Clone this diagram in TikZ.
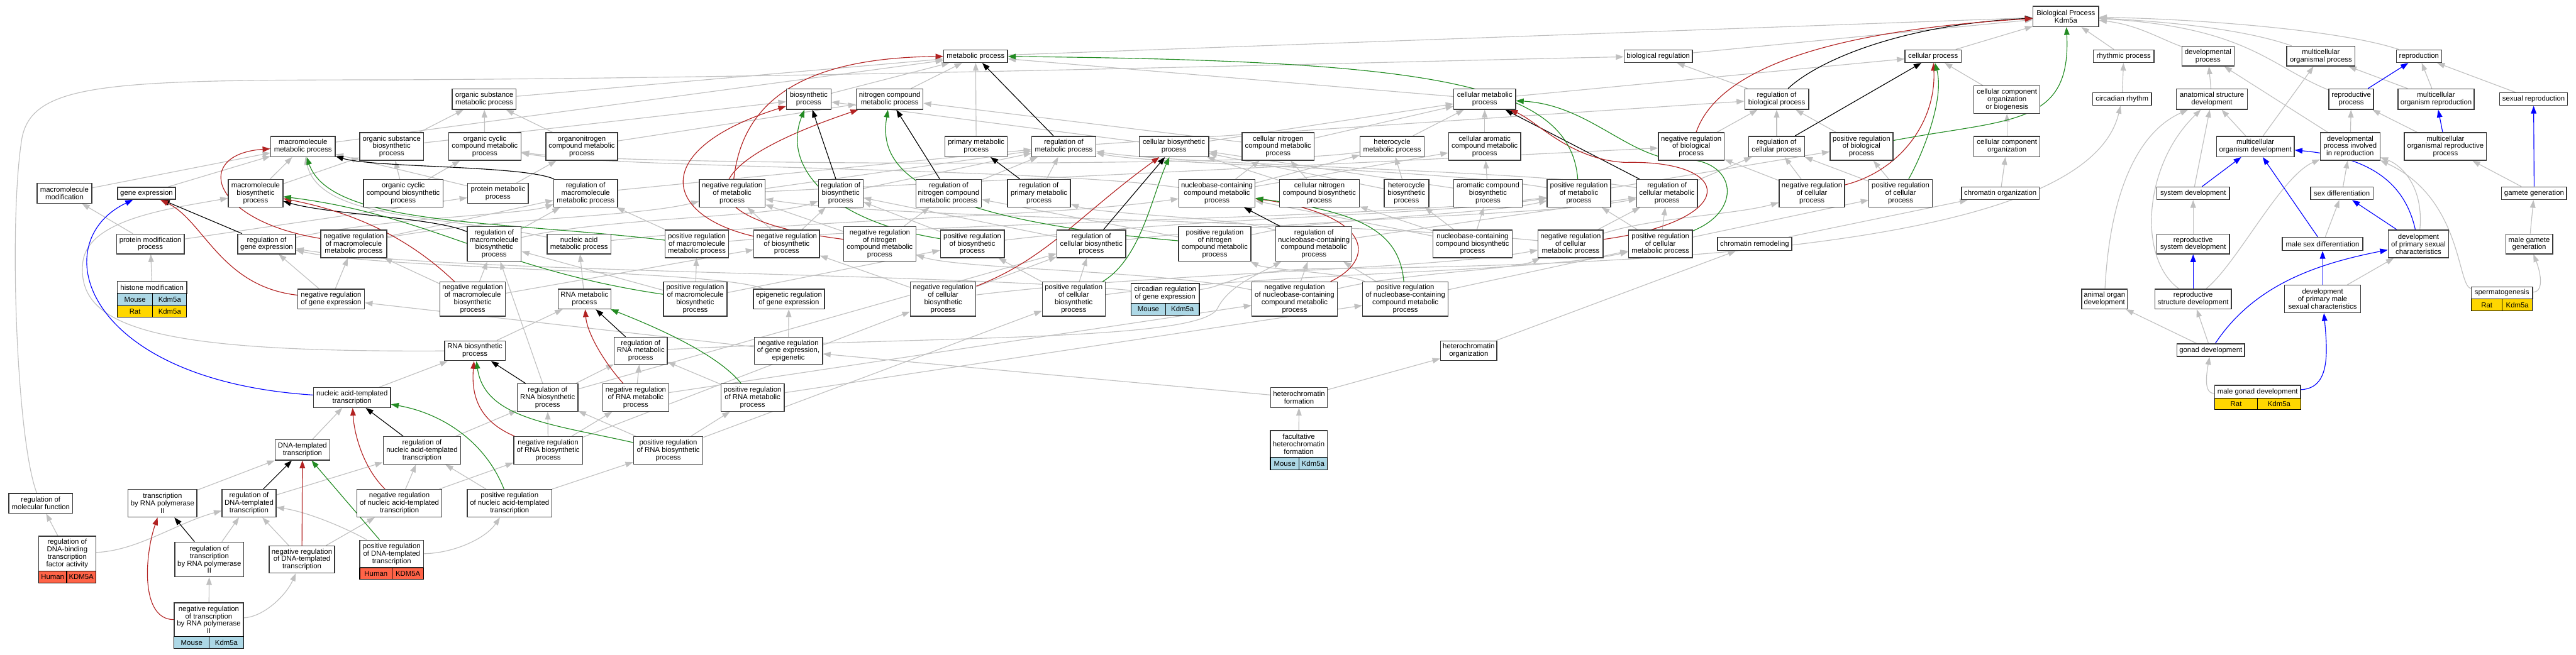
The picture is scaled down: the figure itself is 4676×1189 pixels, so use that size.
\documentclass[tikz,border=0pt]{standalone}
\usepackage{fontspec}
\setmainfont{Liberation Sans}
\usetikzlibrary{arrows.meta,backgrounds}
\definecolor{GoGray}{HTML}{C0C0C0}
\definecolor{GoRed}{HTML}{B22222}
\definecolor{GoGreen}{HTML}{228B22}
\definecolor{GoBlue}{HTML}{0000FF}
\definecolor{GoFrame}{HTML}{3A3A3A}
\definecolor{GoMouse}{HTML}{ADD8E6}
\definecolor{GoRat}{HTML}{FFD700}
\definecolor{GoHuman}{HTML}{FF6347}
\newcommand{\gofont}{\fontsize{13}{13.6}\selectfont}
\begin{document}
\begin{tikzpicture}[x=1pt,y=-1pt,
    term/.style={draw=GoFrame,line width=1.6pt,fill=white,align=center,inner sep=0pt,font=\gofont},
    sz/.style 2 args={minimum width=#1pt,minimum height=#2pt},
    cell/.style={draw=black,line width=1.2pt,inner sep=0pt,font=\gofont},
    isa/.style={color=GoGray,line width=1.3pt,-{Triangle[length=14pt,width=10pt]}},
    reg/.style={isa,color=black},
    negreg/.style={isa,color=GoRed},
    posreg/.style={isa,color=GoGreen},
    partof/.style={isa,color=GoBlue}]
  \useasboundingbox (0,0) rectangle (4676,1189);

  \node[term,sz={119}{37}] (root) at (3750,30) {Biological Process\\Kdm5a};
  \node[term,sz={116}{23}] (mp) at (1771,102) {metabolic process};
  \node[term,sz={124}{23}] (breg) at (3010,102) {biological regulation};
  \node[term,sz={102}{23}] (cp) at (3509,102) {cellular process};
  \node[term,sz={110}{23}] (rhp) at (3855,102) {rhythmic process};
  \node[term,sz={95}{36}] (dp) at (4008,102) {developmental\\process};
  \node[term,sz={124}{36}] (mop) at (4213,102) {multicellular\\organismal process};
  \node[term,sz={82}{23}] (repr) at (4391,102) {reproduction};

  \node[term,sz={116}{37}] (osmp) at (879,180) {organic substance\\metabolic process};
  \node[term,sz={81}{37}] (bp) at (1468,180) {biosynthetic\\process};
  \node[term,sz={121}{37}] (ncmp) at (1615,180) {nitrogen compound\\metabolic process};
  \node[term,sz={112}{37}] (cmp) at (2695,180) {cellular metabolic\\process};
  \node[term,sz={116}{37}] (rbiop) at (3225,180) {regulation of\\biological process};
  \node[term,sz={120}{50}] (ccob) at (3643,181) {cellular component\\organization\\or biogenesis};
  \node[term,sz={107}{23}] (crh) at (3852,180) {circadian rhythm};
  \node[term,sz={129}{37}] (asd) at (4015,180) {anatomical structure\\development};
  \node[term,sz={81}{37}] (rp) at (4268,180) {reproductive\\process};
  \node[term,sz={138}{37}] (mor) at (4422,180) {multicellular\\organism reproduction};
  \node[term,sz={123}{23}] (sr) at (4599,180) {sexual reproduction};

  \node[term,sz={117}{37}] (mmp) at (550,266) {macromolecule\\metabolic process};
  \node[term,sz={116}{50}] (osbp) at (711,266) {organic substance\\biosynthetic\\process};
  \node[term,sz={131}{50}] (occmp) at (880,266) {organic cyclic\\compound metabolic\\process};
  \node[term,sz={130}{50}] (oncmp) at (1056,266) {organonitrogen\\compound metabolic\\process};
  \node[term,sz={113}{37}] (pmbp) at (1772,266) {primary metabolic\\process};
  \node[term,sz={116}{37}] (rmp) at (1931,266) {regulation of\\metabolic process};
  \node[term,sz={126}{37}] (cbp) at (2131,266) {cellular biosynthetic\\process};
  \node[term,sz={131}{50}] (cncmp) at (2320,266) {cellular nitrogen\\compound metabolic\\process};
  \node[term,sz={116}{37}] (hmp) at (2527,266) {heterocycle\\metabolic process};
  \node[term,sz={131}{50}] (camp) at (2695,266) {cellular aromatic\\compound metabolic\\process};
  \node[term,sz={119}{50}] (nrbiop) at (3070,266) {negative regulation\\of biological\\process};
  \node[term,sz={101}{37}] (rcp) at (3225,266) {regulation of\\cellular process};
  \node[term,sz={114}{50}] (prbiop) at (3379,266) {positive regulation\\of biological\\process};
  \node[term,sz={120}{37}] (cco) at (3643,266) {cellular component\\organization};
  \node[term,sz={141}{37}] (mod) at (4094,266) {multicellular\\organism development};
  \node[term,sz={108}{50}] (dpir) at (4266,266) {developmental\\process involved\\in reproduction};
  \node[term,sz={149}{50}] (morp) at (4439,266) {multicellular\\organismal reproductive\\process};

  \node[term,sz={99}{36}] (mmod) at (117,351) {macromolecule\\modification};
  \node[term,sz={105}{22}] (gexp) at (266,351) {gene expression};
  \node[term,sz={99}{50}] (mbp) at (464,351) {macromolecule\\biosynthetic\\process};
  \node[term,sz={144}{50}] (occbp) at (732,351) {organic cyclic\\compound biosynthetic\\process};
  \node[term,sz={110}{36}] (pmp) at (904,351) {protein metabolic\\process};
  \node[term,sz={116}{50}] (rmmp) at (1063,351) {regulation of\\macromolecule\\metabolic process};
  \node[term,sz={119}{50}] (nrmp) at (1329,351) {negative regulation\\of metabolic\\process};
  \node[term,sz={81}{50}] (rbp) at (1526,351) {regulation of\\biosynthetic\\process};
  \node[term,sz={119}{50}] (rncmp) at (1722,351) {regulation of\\nitrogen compound\\metabolic process};
  \node[term,sz={114}{50}] (rpmp) at (1886,351) {regulation of\\primary metabolic\\process};
  \node[term,sz={138}{50}] (nccmp) at (2209,351) {nucleobase-containing\\compound metabolic\\process};
  \node[term,sz={145}{50}] (cncbp) at (2395,351) {cellular nitrogen\\compound biosynthetic\\process};
  \node[term,sz={81}{50}] (hbp) at (2553,351) {heterocycle\\biosynthetic\\process};
  \node[term,sz={125}{50}] (acbp) at (2701,351) {aromatic compound\\biosynthetic\\process};
  \node[term,sz={115}{50}] (prmp) at (2866,351) {positive regulation\\of metabolic\\process};
  \node[term,sz={110}{50}] (rcmp) at (3026,351) {regulation of\\cellular metabolic\\process};
  \node[term,sz={119}{50}] (nrcp) at (3289,351) {negative regulation\\of cellular\\process};
  \node[term,sz={115}{50}] (prcp) at (3450,351) {positive regulation\\of cellular\\process};
  \node[term,sz={141}{23}] (chorg) at (3631,351) {chromatin organization};
  \node[term,sz={132}{23}] (sd) at (3981,351) {system development};
  \node[term,sz={114}{23}] (sdiff) at (4251,351) {sex differentiation};
  \node[term,sz={118}{23}] (gg) at (4600,351) {gamete generation};

  \node[term,sz={123}{36}] (pmod) at (273,443) {protein modification\\process};
  \node[term,sz={105}{36}] (rge) at (484,443) {regulation of\\gene expression};
  \node[term,sz={120}{50}] (nrmmp) at (642,443) {negative regulation\\of macromolecule\\metabolic process};
  \node[term,sz={98}{63}] (rmbp) at (897,443) {regulation of\\macromolecule\\biosynthetic\\process};
  \node[term,sz={116}{36}] (namp) at (1051,443) {nucleic acid\\metabolic process};
  \node[term,sz={115}{50}] (prmmp) at (1265,443) {positive regulation\\of macromolecule\\metabolic process};
  \node[term,sz={119}{50}] (nrbp) at (1428,443) {negative regulation\\of biosynthetic\\process};
  \node[term,sz={131}{63}] (nrncmp) at (1597,443) {negative regulation\\of nitrogen\\compound metabolic\\process};
  \node[term,sz={116}{50}] (prbp) at (1765,443) {positive regulation\\of biosynthetic\\process};
  \node[term,sz={125}{50}] (rcbp) at (1981,443) {regulation of\\cellular biosynthetic\\process};
  \node[term,sz={131}{63}] (prncmp) at (2205,443) {positive regulation\\of nitrogen\\compound metabolic\\process};
  \node[term,sz={138}{63}] (rnccmp) at (2385,443) {regulation of\\nucleobase-containing\\compound metabolic\\process};
  \node[term,sz={144}{50}] (nccbp) at (2673,443) {nucleobase-containing\\compound biosynthetic\\process};
  \node[term,sz={118}{50}] (nrcmp) at (2851,443) {negative regulation\\of cellular\\metabolic process};
  \node[term,sz={116}{50}] (prcmp) at (3014,443) {positive regulation\\of cellular\\metabolic process};
  \node[term,sz={135}{24}] (chrem) at (3185,443) {chromatin remodeling};
  \node[term,sz={132}{36}] (rsd) at (3981,443) {reproductive\\system development};
  \node[term,sz={146}{24}] (msd) at (4216,443) {male sex differentiation};
  \node[term,sz={110}{50}] (dpsc) at (4390,443) {development\\of primary sexual\\characteristics};
  \node[term,sz={85}{36}] (mgg) at (4591,443) {male gamete\\generation};

  \node[term,sz={126}{22}] (hmod) at (276,522) {histone modification};
  \node[cell,fill=GoMouse,sz={64}{22}] (hmodA) at (245,544) {Mouse};
  \node[cell,fill=GoMouse,sz={62}{22}] (hmodB) at (308,544) {Kdm5a};
  \node[cell,fill=GoRat,sz={64}{21}] (hmodC) at (245,565.5) {Rat};
  \node[cell,fill=GoRat,sz={62}{21}] (hmodD) at (308,565.5) {Kdm5a};
  \node[term,sz={121}{36}] (nrge) at (601,543) {negative regulation\\of gene expression};
  \node[term,sz={119}{62}] (nrmbp) at (858,543) {negative regulation\\of macromolecule\\biosynthetic\\process};
  \node[term,sz={96}{36}] (rnamp) at (1061,543) {RNA metabolic\\process};
  \node[term,sz={115}{62}] (prmbp) at (1262,543) {positive regulation\\of macromolecule\\biosynthetic\\process};
  \node[term,sz={129}{36}] (ereg) at (1432,543) {epigenetic regulation\\of gene expression};
  \node[term,sz={119}{62}] (nrcbp) at (1712,543) {negative regulation\\of cellular\\biosynthetic\\process};
  \node[term,sz={114}{62}] (prcbp) at (1949,543) {positive regulation\\of cellular\\biosynthetic\\process};
  \node[term,sz={124}{36}] (crge) at (2115,533) {circadian regulation\\of gene expression};
  \node[cell,fill=GoMouse,sz={63}{21}] (crgeA) at (2084.5,561.5) {Mouse};
  \node[cell,fill=GoMouse,sz={61}{21}] (crgeB) at (2146.5,561.5) {Kdm5a};
  \node[term,sz={155}{62}] (nrnccmp) at (2350,543) {negative regulation\\of nucleobase-containing\\compound metabolic\\process};
  \node[term,sz={155}{62}] (prnccmp) at (2551,543) {positive regulation\\of nucleobase-containing\\compound metabolic\\process};
  \node[term,sz={83}{36}] (aod) at (3820,543) {animal organ\\development};
  \node[term,sz={139}{36}] (rstd) at (3981,543) {reproductive\\structure development};
  \node[term,sz={138}{50}] (dpmsc) at (4216,543) {development\\of primary male\\sexual characteristics};
  \node[term,sz={111}{22}] (sperm) at (4541.5,532) {spermatogenesis};
  \node[cell,fill=GoRat,sz={56}{22}] (spermA) at (4514,554) {Rat};
  \node[cell,fill=GoRat,sz={55}{22}] (spermB) at (4569.5,554) {Kdm5a};

  \node[term,sz={110}{36}] (rnabp) at (862,637) {RNA biosynthetic\\process};
  \node[term,sz={96}{49}] (rrnamp) at (1163,637) {regulation of\\RNA metabolic\\process};
  \node[term,sz={124}{49}] (nrgee) at (1431,637) {negative regulation\\of gene expression,\\epigenetic};
  \node[term,sz={102}{36}] (ho) at (2666,637) {heterochromatin\\organization};
  \node[term,sz={123}{23}] (gd) at (4013,636) {gonad development};

  \node[term,sz={140}{36}] (natt) at (639,722) {nucleic acid-templated\\transcription};
  \node[term,sz={110}{50}] (rrnabp) at (994,722) {regulation of\\RNA biosynthetic\\process};
  \node[term,sz={120}{50}] (nrrnamp) at (1154,722) {negative regulation\\of RNA metabolic\\process};
  \node[term,sz={115}{50}] (prrnamp) at (1366,722) {positive regulation\\of RNA metabolic\\process};
  \node[term,sz={103}{36}] (hf) at (2358,722) {heterochromatin\\formation};
  \node[term,sz={156}{23}] (mgd) at (4098,711.5) {male gonad development};
  \node[cell,fill=GoRat,sz={78}{21}] (mgdA) at (4059,733.5) {Rat};
  \node[cell,fill=GoRat,sz={78}{21}] (mgdB) at (4137,733.5) {Kdm5a};

  \node[term,sz={99}{37}] (dtt) at (549,817) {DNA-templated\\transcription};
  \node[term,sz={141}{50}] (rnatt) at (766,818) {regulation of\\nucleic acid-templated\\transcription};
  \node[term,sz={125}{50}] (nrrnabp) at (995,818) {negative regulation\\of RNA biosynthetic\\process};
  \node[term,sz={126}{50}] (prrnabp) at (1213,818) {positive regulation\\of RNA biosynthetic\\process};
  \node[term,sz={103}{49}] (fhf) at (2357.5,806.5) {facultative\\heterochromatin\\formation};
  \node[cell,fill=GoMouse,sz={52}{22}] (fhfA) at (2332,842) {Mouse};
  \node[cell,fill=GoMouse,sz={51}{22}] (fhfB) at (2383.5,842) {Kdm5a};

  \node[term,sz={116}{36}] (rmf) at (74,914) {regulation of\\molecular function};
  \node[term,sz={125}{50}] (trp2) at (295,914) {transcription\\by RNA polymerase\\II};
  \node[term,sz={98}{50}] (rdtt) at (452,914) {regulation of\\DNA-templated\\transcription};
  \node[term,sz={154}{50}] (nrnatt) at (725,914) {negative regulation\\of nucleic acid-templated\\transcription};
  \node[term,sz={154}{50}] (prnatt) at (925,914) {positive regulation\\of nucleic acid-templated\\transcription};

  \node[term,sz={104}{63}] (rdbtf) at (122,1005.5) {regulation of\\DNA-binding\\transcription\\factor activity};
  \node[cell,fill=GoHuman,sz={51}{22}] (rdbtfA) at (95.5,1048) {Human};
  \node[cell,fill=GoHuman,sz={53}{22}] (rdbtfB) at (147.5,1048) {KDM5A};
  \node[term,sz={125}{63}] (rtrp2) at (380,1016) {regulation of\\transcription\\by RNA polymerase\\II};
  \node[term,sz={119}{49}] (nrdtt) at (548,1016) {negative regulation\\of DNA-templated\\transcription};
  \node[term,sz={116}{50}] (prdtt) at (711,1006) {positive regulation\\of DNA-templated\\transcription};
  \node[cell,fill=GoHuman,sz={59}{21}] (prdttA) at (682.5,1041.5) {Human};
  \node[cell,fill=GoHuman,sz={57}{21}] (prdttB) at (740.5,1041.5) {KDM5A};

  \node[term,sz={126}{61}] (nrtrp2) at (379,1125.5) {negative regulation\\of transcription\\by RNA polymerase\\II};
  \node[cell,fill=GoMouse,sz={64}{22}] (nrtrp2A) at (348,1167) {Mouse};
  \node[cell,fill=GoMouse,sz={62}{22}] (nrtrp2B) at (411,1167) {Kdm5a};

  \begin{scope}[on background layer]
    \fill[white] (0,0) rectangle (4676,1189);
    \path[isa] (mp) edge (root);
    \path[isa] (breg) edge (root);
    \path[isa] (cp) edge (root);
    \path[isa] (rhp) edge (root);
    \draw[isa] (dp) .. controls (3920,70) and (3880,45) .. (root);
    \draw[isa] (mop) .. controls (4080,55) and (3950,40) .. (root);
    \draw[isa] (repr) .. controls (4250,55) and (4000,35) .. (root);
    \draw[isa] (rp) .. controls (4120,120) and (4080,50) .. (root);
    \path[isa] (osmp) edge (mp);
    \path[isa] (bp) edge (mp);
    \path[isa] (ncmp) edge (mp);
    \path[isa] (cmp) edge (mp) edge (cp);
    \path[isa] (rbiop) edge (breg);
    \path[isa] (ccob) edge (cp);
    \path[isa] (crh) edge (rhp);
    \path[isa] (asd) edge (dp);
    \path[isa] (mor) edge (repr) edge (mop);
    \path[isa] (sr) edge (repr);
    \path[isa] (mmp) edge (mp);
    \path[isa] (osbp) edge (osmp) edge (bp);
    \path[isa] (occmp) edge (osmp);
    \path[isa] (oncmp) edge (osmp) edge (ncmp);
    \path[isa] (pmbp) edge (mp);
    \path[isa] (rmp) edge (rbiop);
    \path[isa] (cbp) edge (bp) edge (cmp);
    \path[isa] (cncmp) edge (ncmp) edge (cmp);
    \path[isa] (hmp) edge (cmp);
    \draw[isa] (hmp) .. controls (2300,305) and (1100,300) .. (occmp);
    \path[isa] (camp) edge (cmp);
    \path[isa] (nrbiop) edge (rbiop);
    \path[isa] (rcp) edge (rbiop);
    \path[isa] (prbiop) edge (rbiop);
    \path[isa] (cco) edge (ccob);
    \path[isa] (mod) edge (mop) edge (asd);
    \path[isa] (dpir) edge (dp) edge (rp);
    \path[isa] (morp) edge (rp);
    \path[isa] (mmod) edge (mmp);
    \path[isa] (gexp) edge (mmp);
    \path[isa] (mbp) edge (mmp) edge (osbp);
    \path[isa] (occbp) edge (osbp) edge (occmp);
    \path[isa] (pmp) edge (mmp) edge (oncmp);
    \path[isa] (rmmp) edge (rmp);
    \path[isa] (nrmp) edge (rmp) edge (nrbiop);
    \path[isa] (rbp) edge (rmp);
    \path[isa] (rncmp) edge (rmp);
    \path[isa] (rpmp) edge (rmp);
    \path[isa] (nccmp) edge (cncmp) edge (hmp) edge (camp);
    \draw[isa] (nccmp) .. controls (1900,305) and (1100,305) .. (occmp);
    \path[isa] (cncbp) edge (cncmp) edge (cbp);
    \path[isa] (hbp) edge (hmp) edge (cbp);
    \path[isa] (acbp) edge (camp) edge (cbp);
    \path[isa] (prmp) edge (prbiop);
    \draw[isa] (prmp) .. controls (2600,305) and (2100,300) .. (rmp);
    \path[isa] (rcmp) edge (rcp);
    \draw[isa] (rcmp) .. controls (2800,310) and (2150,300) .. (rmp);
    \path[isa] (nrcp) edge (rcp) edge (nrbiop);
    \path[isa] (prcp) edge (rcp) edge (prbiop);
    \path[isa] (chorg) edge (cco);
    \path[isa] (sd) edge (asd);
    \path[isa] (sdiff) edge (dpir);
    \path[isa] (gg) edge (morp);
    \path[isa] (pmod) edge (mmod) edge (pmp);
    \draw[isa] (rge) .. controls (700,395) and (950,390) .. (rmmp);
    \path[isa] (nrmmp) edge (rmmp);
    \draw[isa] (nrmmp) .. controls (900,395) and (1150,395) .. (nrmp);
    \path[isa] (rmbp) edge (rmmp);
    \draw[isa] (rmbp) .. controls (1100,395) and (1400,395) .. (rbp);
    \draw[isa] (namp) .. controls (1500,395) and (1900,395) .. (nccmp);
    \draw[isa] (namp) .. controls (800,390) and (580,400) .. (mmp);
    \path[isa] (prmmp) edge (rmmp);
    \draw[isa] (prmmp) .. controls (1800,398) and (2500,398) .. (prmp);
    \path[isa] (nrbp) edge (rbp) edge (nrmp);
    \path[isa] (nrncmp) edge (rncmp) edge (nrmp);
    \path[isa] (prbp) edge (rbp);
    \draw[isa] (prbp) .. controls (2200,392) and (2600,392) .. (prmp);
    \path[isa] (rcbp) edge (rbp);
    \draw[isa] (rcbp) .. controls (2400,393) and (2800,393) .. (rcmp);
    \path[isa] (prncmp) edge (rncmp);
    \draw[isa] (prncmp) .. controls (2400,395) and (2700,390) .. (prmp);
    \draw[isa] (rnccmp) .. controls (2250,395) and (2000,390) .. (rpmp);
    \path[isa] (rnccmp) edge (rcmp);
    \path[isa] (nccbp) edge (nccmp) edge (cncbp) edge (hbp) edge (acbp);
    \path[isa] (nrcmp) edge (rcmp);
    \draw[isa] (nrcmp) .. controls (2400,398) and (1600,398) .. (nrmp);
    \draw[isa] (nrcmp) .. controls (3000,395) and (3150,390) .. (nrcp);
    \path[isa] (prcmp) edge (rcmp) edge (prmp) edge (prcp);
    \path[isa] (chrem) edge (chorg);
    \path[isa] (rsd) edge (sd);
    \path[isa] (msd) edge (sdiff);
    \draw[isa] (dpsc) .. controls (4400,340) and (4360,300) .. (dpir);
    \path[isa] (mgg) edge (gg);
    \path[isa] (hmod) edge (pmod);
    \path[isa] (nrge) edge (rge) edge (nrmmp);
    \path[isa] (nrmbp) edge (rmbp) edge (nrbp) edge (nrmmp);
    \path[isa] (rnamp) edge (namp);
    \path[isa] (prmbp) edge (rmbp) edge (prbp) edge (prmmp);
    \draw[isa] (ereg) .. controls (1300,490) and (700,490) .. (rge);
    \path[isa] (nrcbp) edge (rcbp) edge (nrbp);
    \draw[isa] (nrcbp) .. controls (2100,495) and (2600,490) .. (nrcmp);
    \path[isa] (prcbp) edge (rcbp) edge (prbp);
    \draw[isa] (prcbp) .. controls (2300,495) and (2800,495) .. (prcmp);
    \draw[isa] (crge) .. controls (1700,495) and (800,495) .. (rge);
    \draw[isa] (crge) .. controls (2230,520) and (2240,490) .. (2400,488) .. controls (3300,480) and (3800,400) .. (crh);
    \path[isa] (nrnccmp) edge (rnccmp);
    \draw[isa] (nrnccmp) .. controls (2100,490) and (1750,490) .. (nrncmp);
    \draw[isa] (nrnccmp) .. controls (2550,495) and (2750,490) .. (nrcmp);
    \path[isa] (prnccmp) edge (rnccmp) edge (prcmp);
    \draw[isa] (prnccmp) .. controls (2440,495) and (2300,490) .. (prncmp);
    \draw[isa] (aod) .. controls (3830,350) and (3880,240) .. (asd);
    \draw[isa] (rstd) .. controls (3880,470) and (3890,300) .. (asd);
    \draw[isa] (rstd) .. controls (4060,480) and (4140,320) .. (dpir);
    \path[isa] (dpmsc) edge (dpsc);
    \draw[isa] (sperm) .. controls (4460,520) and (4470,360) .. (dpir);
    \draw[isa] (sperm) .. controls (4620,530) and (4610,490) .. (mgg);
    \path[isa] (rnabp) edge (rnamp);
    \draw[isa] (rnabp) .. controls (300,640) and (140,600) .. (150,480) .. controls (155,400) and (300,380) .. (mbp);
    \draw[isa] (rrnamp) .. controls (1700,610) and (2180,620) .. (2210,560) .. controls (2230,520) and (2280,500) .. (rnccmp);
    \path[isa] (nrgee) edge (nrge) edge (ereg);
    \path[isa] (ho) edge (chrem);
    \path[isa] (gd) edge (aod) edge (rstd);
    \path[isa] (natt) edge (rnabp);
    \path[isa] (rrnabp) edge (rrnamp) edge (rmbp) edge (rcbp);
    \path[isa] (nrrnamp) edge (rrnamp) edge (nrnccmp);
    \path[isa] (prrnamp) edge (rrnamp) edge (prnccmp);
    \path[isa] (hf) edge (ho) edge (nrgee);
    \draw[isa] (mgd) .. controls (4000,715) and (4005,680) .. (gd);
    \path[isa] (dtt) edge (natt);
    \path[isa] (rnatt) edge (rrnabp);
    \path[isa] (nrrnabp) edge (rrnabp) edge (nrrnamp) edge (nrcbp);
    \path[isa] (prrnabp) edge (rrnabp) edge (prrnamp) edge (prcbp);
    \path[isa] (fhf) edge (hf);
    \draw[isa] (rmf) .. controls (30,800) and (15,400) .. (40,250) .. controls (60,150) and (200,145) .. (700,145) .. controls (1500,142) and (2600,110) .. (breg);
    \path[isa] (trp2) edge (dtt);
    \path[isa] (rdtt) edge (rnatt);
    \path[isa] (nrnatt) edge (rnatt) edge (nrrnabp);
    \path[isa] (prnatt) edge (rnatt) edge (prrnabp);
    \path[isa] (rdbtf) edge (rmf);
    \draw[isa] (rdbtf) .. controls (250,1000) and (320,950) .. (rdtt);
    \path[isa] (rtrp2) edge (rdtt);
    \path[isa] (nrdtt) edge (rdtt) edge (nrnatt);
    \draw[isa] (prdtt) .. controls (630,960) and (560,930) .. (rdtt);
    \draw[isa] (prdtt) .. controls (820,1005) and (880,980) .. (prnatt);
    \path[isa] (nrtrp2) edge (rtrp2);
    \draw[isa] (nrtrp2) .. controls (480,1120) and (520,1080) .. (nrdtt);

    \draw[reg] (rbiop) .. controls (3300,110) and (3450,45) .. (root);
    \draw[reg] (rcp) -- (cp);
    \draw[reg] (rmp) -- (mp);
    \draw[reg] (rmmp) .. controls (950,300) and (680,305) .. (mmp);
    \draw[reg] (rbp) -- (bp);
    \draw[reg] (rncmp) -- (ncmp);
    \draw[reg] (rpmp) -- (pmbp);
    \draw[reg] (rcbp) -- (cbp);
    \draw[reg] (rcmp) -- (cmp);
    \draw[reg] (rnccmp) -- (nccmp);
    \draw[reg] (rge) -- (gexp);
    \draw[reg] (rmbp) .. controls (790,395) and (600,390) .. (mbp);
    \draw[reg] (rrnamp) -- (rnamp);
    \draw[reg] (rrnabp) -- (rnabp);
    \draw[reg] (rnatt) -- (natt);
    \draw[reg] (rdtt) -- (dtt);
    \draw[reg] (rtrp2) -- (trp2);

    \draw[negreg] (nrbiop) .. controls (3110,150) and (3250,60) .. (root);
    \draw[negreg] (nrcp) .. controls (3450,310) and (3515,220) .. (cp);
    \draw[negreg] (nrmp) .. controls (1345,210) and (1420,105) .. (mp);
    \draw[negreg] (nrmmp) .. controls (380,400) and (350,280) .. (mmp);
    \draw[negreg] (nrbp) .. controls (1200,390) and (1180,270) .. (bp);
    \draw[negreg] (nrncmp) .. controls (1260,400) and (1230,310) .. (ncmp);
    \draw[negreg] (nrcbp) .. controls (1900,470) and (1960,390) .. (cbp);
    \draw[negreg] (nrcmp) .. controls (3160,400) and (3150,290) .. (2950,295) .. controls (2850,290) and (2790,220) .. (cmp);
    \draw[negreg] (nrnccmp) .. controls (2500,470) and (2490,390) .. (nccmp);
    \draw[negreg] (nrge) .. controls (400,520) and (370,400) .. (gexp);
    \draw[negreg] (nrmbp) .. controls (740,430) and (640,385) .. (mbp);
    \draw[negreg] (nrrnamp) .. controls (1090,650) and (1065,600) .. (rnamp);
    \draw[negreg] (nrrnabp) .. controls (870,765) and (855,720) .. (rnabp);
    \draw[negreg] (nrnatt) .. controls (660,850) and (643,790) .. (natt);
    \draw[negreg] (nrdtt) -- (dtt);
    \draw[negreg] (nrtrp2) .. controls (255,1125) and (262,1010) .. (trp2);

    \draw[posreg] (prbiop) .. controls (3650,215) and (3760,230) .. (root);
    \draw[posreg] (prcp) .. controls (3490,280) and (3530,180) .. (cp);
    \draw[posreg] (prmp) .. controls (2850,150) and (2600,110) .. (mp);
    \draw[posreg] (prmmp) .. controls (900,400) and (600,410) .. (mmp);
    \draw[posreg] (prbp) .. controls (1500,400) and (1420,300) .. (bp);
    \draw[posreg] (prncmp) .. controls (1650,395) and (1595,300) .. (ncmp);
    \draw[posreg] (prcbp) .. controls (2070,470) and (2090,360) .. (cbp);
    \draw[posreg] (prcmp) .. controls (3170,380) and (3150,280) .. (3040,290) .. controls (2950,280) and (2880,190) .. (cmp);
    \draw[posreg] (prnccmp) .. controls (2540,420) and (2470,385) .. (nccmp);
    \draw[posreg] (prmbp) .. controls (900,490) and (780,390) .. (mbp);
    \draw[posreg] (prrnamp) .. controls (1300,640) and (1180,590) .. (rnamp);
    \draw[posreg] (prrnabp) .. controls (1000,770) and (880,760) .. (rnabp);
    \draw[posreg] (prnatt) .. controls (880,800) and (800,750) .. (natt);
    \draw[posreg] (prdtt) -- (dtt);

    \draw[partof] (natt) .. controls (150,690) and (80,440) .. (gexp);
    \draw[partof] (rp) -- (repr);
    \draw[partof] (morp) -- (mor);
    \draw[partof] (gg) -- (sr);
    \draw[partof] (sd) -- (mod);
    \draw[partof] (msd) -- (mod);
    \draw[partof] (dpsc) -- (sdiff);
    \draw[partof] (dpsc) .. controls (4365,330) and (4300,285) .. (mod);
    \draw[partof] (rstd) -- (rsd);
    \draw[partof] (dpmsc) -- (msd);
    \draw[partof] (gd) .. controls (4090,520) and (4200,480) .. (dpsc);
    \draw[partof] (mgd) .. controls (4230,705) and (4225,640) .. (dpmsc);
  \end{scope}
\end{tikzpicture}
\end{document}
